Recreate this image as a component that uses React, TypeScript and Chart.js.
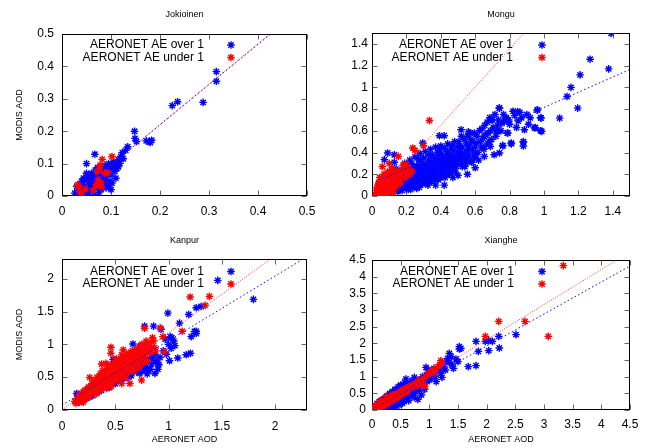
import { useEffect, useRef } from "react";
import { Chart, registerables } from "chart.js";

Chart.register(...registerables);

type P = [number, number];

// ---------- text ----------
const PANEL_TITLES = ["Jokioinen", "Mongu", "Kanpur", "Xianghe"];
const LEGEND_LABELS = ["AERONET AE over 1", "AERONET AE under 1"];
const X_AXIS_TITLE = "AERONET AOD";
const Y_AXIS_TITLE = "MODIS AOD";

// ---------- axes ----------
const AXIS_MAX = [0.5, 1.5, 2.3, 4.5];
const TICK_STEP = [0.1, 0.2, 0.5, 0.5];

// ---------- data: Jokioinen ----------
const jokioinenOver: P[] = [
  [0.315, 0.384], [0.315, 0.354], [0.225, 0.279], [0.236, 0.291], [0.288, 0.289],
  [0.148, 0.2], [0.149, 0.178], [0.152, 0.168], [0.172, 0.17], [0.178, 0.168],
  [0.183, 0.172], [0.18, 0.165], [0.134, 0.152], [0.13, 0.141], [0.123, 0.134],
  [0.12, 0.122], [0.067, 0.129], [0.05, 0.1], [0.115, 0.112], [0.11, 0.1],
  [0.108, 0.092], [0.1, 0.098], [0.095, 0.1], [0.088, 0.094], [0.08, 0.09],
  [0.073, 0.088], [0.068, 0.08], [0.075, 0.072], [0.085, 0.077], [0.092, 0.083],
  [0.104, 0.082], [0.108, 0.076], [0.115, 0.09], [0.1, 0.065], [0.094, 0.066],
  [0.098, 0.045], [0.102, 0.04], [0.09, 0.05], [0.085, 0.058], [0.08, 0.06],
  [0.072, 0.06], [0.065, 0.065], [0.06, 0.058], [0.055, 0.06], [0.05, 0.05],
  [0.045, 0.048], [0.04, 0.045], [0.058, 0.045], [0.065, 0.04], [0.07, 0.045],
  [0.078, 0.035], [0.085, 0.03], [0.09, 0.025], [0.06, 0.03], [0.052, 0.028],
  [0.045, 0.03], [0.04, 0.025], [0.035, 0.02], [0.03, 0.012], [0.026, 0.009],
  [0.034, 0.003], [0.05, 0.004], [0.055, 0.012], [0.062, 0.015], [0.068, 0.0],
  [0.075, 0.01], [0.08, 0.02], [0.095, 0.03], [0.088, 0.04], [0.048, 0.018],
  [0.042, 0.01], [0.03, 0.03], [0.038, 0.035], [0.044, 0.055], [0.05, 0.07],
  [0.056, 0.04], [0.06, 0.07], [0.064, 0.052], [0.07, 0.07], [0.076, 0.055],
  [0.082, 0.05], [0.088, 0.065], [0.092, 0.075], [0.097, 0.09], [0.105, 0.105],
  [0.11, 0.055], [0.112, 0.085], [0.118, 0.1], [0.125, 0.115], [0.058, 0.02],
  [0.072, 0.025], [0.1, 0.02],
];
const jokioinenUnder: P[] = [
  [0.102, 0.122], [0.082, 0.113], [0.093, 0.071], [0.087, 0.071], [0.074, 0.05],
  [0.07, 0.035], [0.079, 0.04], [0.076, 0.085], [0.078, 0.095], [0.034, 0.03],
  [0.036, 0.014], [0.064, 0.018], [0.047, 0.022], [0.032, 0.035], [0.08, 0.028],
  [0.072, 0.075], [0.04, 0.008],
];

// ---------- data: Mongu ----------
const monguOver: P[] = [
  [0.03, 0.02], [0.04, 0.05], [0.05, 0.03], [0.05, 0.08], [0.06, 0.1], [0.07, 0.05],
  [0.07, 0.13], [0.08, 0.08], [0.08, 0.16], [0.09, 0.04], [0.09, 0.11], [0.1, 0.07],
  [0.1, 0.14], [0.1, 0.2], [0.11, 0.1], [0.12, 0.05], [0.12, 0.16], [0.12, 0.22],
  [0.13, 0.12], [0.13, 0.08], [0.14, 0.18], [0.14, 0.25], [0.15, 0.1], [0.15, 0.14],
  [0.15, 0.04], [0.16, 0.2], [0.16, 0.06], [0.17, 0.12], [0.17, 0.17], [0.18, 0.24],
  [0.18, 0.08], [0.19, 0.15], [0.19, 0.2], [0.2, 0.1], [0.2, 0.27], [0.21, 0.06],
  [0.21, 0.18], [0.22, 0.13], [0.22, 0.22], [0.23, 0.3], [0.23, 0.09], [0.24, 0.17],
  [0.24, 0.25], [0.25, 0.12], [0.25, 0.2], [0.26, 0.28], [0.26, 0.07], [0.27, 0.15],
  [0.27, 0.23], [0.28, 0.32], [0.28, 0.1], [0.29, 0.19], [0.29, 0.26], [0.3, 0.14],
  [0.3, 0.22], [0.3, 0.35], [0.31, 0.3], [0.32, 0.12], [0.32, 0.18], [0.33, 0.25],
  [0.33, 0.33], [0.34, 0.2], [0.35, 0.15], [0.35, 0.29], [0.35, 0.38], [0.36, 0.24],
  [0.37, 0.18], [0.37, 0.33], [0.38, 0.27], [0.38, 0.4], [0.39, 0.22], [0.4, 0.17],
  [0.4, 0.31], [0.41, 0.36], [0.41, 0.26], [0.42, 0.2], [0.42, 0.44], [0.43, 0.3],
  [0.44, 0.24], [0.44, 0.38], [0.45, 0.34], [0.45, 0.2], [0.46, 0.28], [0.46, 0.43],
  [0.47, 0.24], [0.47, 0.37], [0.48, 0.31], [0.48, 0.5], [0.49, 0.27], [0.5, 0.4],
  [0.5, 0.34], [0.51, 0.45], [0.52, 0.3], [0.52, 0.55], [0.53, 0.38], [0.54, 0.27],
  [0.55, 0.48], [0.55, 0.34], [0.56, 0.42], [0.57, 0.58], [0.58, 0.31], [0.58, 0.5],
  [0.6, 0.38], [0.6, 0.45], [0.61, 0.55], [0.62, 0.33], [0.63, 0.5], [0.64, 0.62],
  [0.65, 0.43], [0.66, 0.56], [0.67, 0.68], [0.68, 0.5], [0.69, 0.6], [0.7, 0.7],
  [0.71, 0.38], [0.72, 0.55], [0.73, 0.65], [0.74, 0.81], [0.75, 0.6], [0.76, 0.46],
  [0.77, 0.69], [0.78, 0.72], [0.79, 0.58], [0.8, 0.66], [0.81, 0.48], [0.83, 0.74],
  [0.85, 0.69], [0.86, 0.77], [0.88, 0.5], [0.88, 0.46], [0.9, 0.75], [0.92, 0.72],
  [0.95, 0.63], [0.96, 0.79], [0.98, 0.72], [0.98, 0.6],
  [1.39, 1.497], [1.376, 1.17], [1.268, 1.259], [1.21, 1.115], [1.157, 1.0],
  [1.134, 0.916], [1.196, 0.809], [1.091, 0.717], [0.392, 0.555], [0.42, 0.555],
  [0.295, 0.488], [0.091, 0.396], [0.13, 0.38], [0.072, 0.335], [0.13, 0.31],
  [0.1, 0.01], [0.12, 0.0], [0.469, 0.243], [0.363, 0.213], [0.576, 0.319],
  [0.653, 0.365], [0.688, 0.457], [0.653, 0.549], [0.731, 0.594], [0.786, 0.58],
  [0.76, 0.466], [0.741, 0.396], [0.809, 0.488], [0.847, 0.778], [0.886, 0.61],
  [0.88, 0.497], [0.944, 0.626], [0.963, 0.793], [0.987, 0.595], [0.983, 0.717],
  [0.78, 0.717], [0.741, 0.809], [0.692, 0.7], [0.518, 0.61], [0.56, 0.59],
  [0.035, 0.06], [0.045, 0.1], [0.055, 0.04], [0.065, 0.07], [0.065, 0.15], [0.075, 0.1],
  [0.085, 0.13], [0.085, 0.05], [0.095, 0.17], [0.095, 0.08], [0.105, 0.11], [0.105, 0.03],
  [0.115, 0.14], [0.115, 0.19], [0.125, 0.09], [0.135, 0.15], [0.135, 0.21], [0.145, 0.06],
  [0.145, 0.12], [0.155, 0.17], [0.155, 0.22], [0.165, 0.09], [0.165, 0.14], [0.175, 0.2],
  [0.175, 0.05], [0.185, 0.11], [0.185, 0.17], [0.195, 0.23], [0.195, 0.08], [0.205, 0.14],
  [0.205, 0.19], [0.215, 0.25], [0.215, 0.1], [0.225, 0.16], [0.225, 0.06], [0.235, 0.2],
  [0.235, 0.13], [0.245, 0.27], [0.245, 0.09], [0.255, 0.16], [0.255, 0.23], [0.265, 0.12],
  [0.265, 0.19], [0.275, 0.26], [0.275, 0.08], [0.285, 0.15], [0.285, 0.22], [0.295, 0.29],
  [0.295, 0.11], [0.305, 0.18], [0.305, 0.25], [0.315, 0.14], [0.315, 0.21], [0.325, 0.28],
  [0.325, 0.1], [0.335, 0.17], [0.335, 0.23], [0.345, 0.31], [0.345, 0.13], [0.355, 0.2],
  [0.355, 0.26], [0.365, 0.16], [0.365, 0.34], [0.375, 0.22], [0.375, 0.29], [0.385, 0.15],
  [0.385, 0.36], [0.395, 0.25], [0.395, 0.32], [0.405, 0.2], [0.405, 0.39], [0.415, 0.29],
  [0.415, 0.23], [0.425, 0.34], [0.425, 0.17], [0.435, 0.27], [0.435, 0.41], [0.445, 0.31],
  [0.445, 0.21], [0.455, 0.37], [0.455, 0.25], [0.465, 0.32], [0.465, 0.47], [0.475, 0.28],
  [0.475, 0.42], [0.485, 0.35], [0.485, 0.22], [0.495, 0.45], [0.495, 0.3], [0.505, 0.37],
  [0.505, 0.5], [0.515, 0.33], [0.515, 0.41], [0.525, 0.45], [0.525, 0.27], [0.535, 0.52],
  [0.535, 0.35], [0.545, 0.41], [0.545, 0.3], [0.555, 0.55], [0.565, 0.37], [0.565, 0.46],
  [0.575, 0.52], [0.585, 0.42], [0.595, 0.35], [0.595, 0.58], [0.605, 0.49], [0.615, 0.4],
  [0.625, 0.6], [0.635, 0.45], [0.645, 0.53], [0.655, 0.65], [0.665, 0.47], [0.675, 0.58],
  [0.685, 0.72], [0.695, 0.52], [0.705, 0.63], [0.715, 0.75], [0.725, 0.6], [0.735, 0.7],
  [0.755, 0.67], [0.765, 0.75], [0.795, 0.7], [0.82, 0.78], [0.84, 0.63], [0.87, 0.72],
  [0.91, 0.66],
  [0.42, 0.1], [0.5, 0.19], [0.555, 0.2], [0.6, 0.26], [0.37, 0.1], [0.47, 0.17],
  [0.19, 0.3], [0.22, 0.33], [0.25, 0.36], [0.28, 0.39], [0.31, 0.41], [0.34, 0.43],
  [0.37, 0.45], [0.4, 0.46], [0.44, 0.48], [0.27, 0.34], [0.33, 0.38], [0.39, 0.42],
];
const monguUnder: P[] = [
  [0.02, 0.01], [0.03, 0.03], [0.03, 0.08], [0.04, 0.02], [0.04, 0.12], [0.05, 0.05],
  [0.05, 0.15], [0.06, 0.09], [0.06, 0.02], [0.07, 0.2], [0.07, 0.12], [0.08, 0.06],
  [0.08, 0.16], [0.09, 0.1], [0.09, 0.22], [0.1, 0.04], [0.1, 0.14], [0.11, 0.19],
  [0.11, 0.08], [0.12, 0.25], [0.12, 0.12], [0.13, 0.17], [0.14, 0.2], [0.14, 0.09],
  [0.15, 0.14], [0.16, 0.22], [0.17, 0.18], [0.18, 0.26], [0.19, 0.2], [0.2, 0.22],
  [0.21, 0.25], [0.22, 0.2], [0.12, 0.03], [0.08, 0.0], [0.181, 0.283], [0.153, 0.365],
  [0.237, 0.442], [0.25, 0.42], [0.3, 0.463], [0.334, 0.695], [0.06, 0.27], [0.1, 0.3],
  [0.113, 0.243], [0.161, 0.151], [0.19, 0.289],
  [0.025, 0.05], [0.035, 0.1], [0.045, 0.07], [0.055, 0.11], [0.055, 0.02], [0.065, 0.14],
  [0.065, 0.05], [0.075, 0.08], [0.075, 0.17], [0.085, 0.11], [0.085, 0.03], [0.095, 0.14],
  [0.095, 0.06], [0.105, 0.17], [0.105, 0.1], [0.115, 0.13], [0.125, 0.2], [0.125, 0.07],
  [0.135, 0.14], [0.145, 0.23], [0.155, 0.18], [0.165, 0.12], [0.175, 0.24], [0.185, 0.2],
  [0.195, 0.17], [0.205, 0.27], [0.215, 0.21], [0.23, 0.23], [0.045, 0.17], [0.09, 0.19],
];

// ---------- data: Kanpur ----------
const kanpurOver: P[] = [
  [0.138, 0.251], [0.15, 0.23], [0.18, 0.16], [0.2, 0.2], [0.22, 0.25], [0.25, 0.24],
  [0.27, 0.3], [0.3, 0.32], [0.32, 0.36], [0.35, 0.35], [0.38, 0.4], [0.4, 0.43],
  [0.42, 0.45], [0.447, 0.343], [0.46, 0.5], [0.48, 0.77], [0.5, 0.52], [0.52, 0.48],
  [0.55, 0.6], [0.58, 0.55], [0.6, 0.6], [0.62, 0.5], [0.64, 0.62], [0.666, 1.006],
  [0.68, 0.68], [0.7, 0.58], [0.72, 0.72], [0.731, 0.557], [0.75, 0.65], [0.76, 0.8],
  [0.778, 0.71], [0.78, 0.6], [0.8, 0.9], [0.81, 0.6], [0.82, 0.78], [0.84, 0.7],
  [0.86, 1.277], [0.775, 1.277], [0.872, 0.557], [0.872, 0.85], [0.897, 0.71],
  [0.909, 0.689], [0.93, 1.23], [0.95, 0.9], [0.994, 1.476], [1.009, 0.75],
  [1.016, 1.118], [1.025, 0.94], [1.05, 1.05], [1.087, 0.792], [1.103, 1.323],
  [1.166, 0.842], [1.19, 1.455], [1.206, 0.864], [1.213, 1.118], [1.26, 1.2],
  [1.26, 1.166], [1.244, 1.195], [1.26, 1.557], [1.306, 1.577], [1.462, 1.975],
  [1.797, 1.685],
  [0.16, 0.12], [0.19, 0.14], [0.23, 0.18], [0.26, 0.2], [0.29, 0.22], [0.33, 0.28],
  [0.37, 0.3], [0.5, 0.4], [0.55, 0.45], [0.58, 0.48], [0.62, 0.55], [0.65, 0.52],
  [0.67, 0.6], [0.69, 0.66], [0.71, 0.64], [0.74, 0.6], [0.76, 0.7], [0.79, 0.66],
  [0.8, 0.55], [0.83, 0.62], [0.85, 0.8], [0.88, 0.75], [0.9, 0.62], [0.92, 0.8],
  [0.98, 0.85], [1.0, 1.0], [1.03, 1.1], [1.06, 0.98], [0.97, 1.08], [0.7, 0.9],
  [0.74, 0.98], [0.63, 0.85],
];
const kanpurUnder: P[] = [
  [0.12, 0.13], [0.14, 0.17], [0.15, 0.12], [0.16, 0.2], [0.17, 0.15], [0.18, 0.24],
  [0.19, 0.18], [0.2, 0.12], [0.2, 0.28], [0.21, 0.22], [0.22, 0.17], [0.23, 0.3],
  [0.24, 0.25], [0.25, 0.2], [0.25, 0.35], [0.26, 0.496], [0.27, 0.29], [0.28, 0.24],
  [0.28, 0.4], [0.29, 0.33], [0.3, 0.27], [0.3, 0.45], [0.31, 0.38], [0.32, 0.3],
  [0.33, 0.42], [0.33, 0.5], [0.34, 0.35], [0.35, 0.28], [0.35, 0.46], [0.36, 0.55],
  [0.37, 0.4], [0.38, 0.33], [0.38, 0.6], [0.39, 0.48], [0.4, 0.38], [0.4, 0.55],
  [0.41, 0.44], [0.42, 0.62], [0.42, 0.33], [0.43, 0.5], [0.44, 0.68], [0.45, 0.42],
  [0.45, 0.58], [0.459, 0.955], [0.459, 0.864], [0.46, 0.36], [0.47, 0.64], [0.48, 0.5],
  [0.49, 0.72], [0.5, 0.44], [0.5, 0.6], [0.51, 0.78], [0.52, 0.55], [0.53, 0.68],
  [0.54, 0.48], [0.55, 0.75], [0.55, 0.62], [0.56, 0.404], [0.56, 0.84], [0.57, 0.56],
  [0.575, 0.914], [0.58, 0.7], [0.59, 0.78], [0.6, 0.5], [0.6, 0.64], [0.61, 0.85],
  [0.62, 0.72], [0.63, 0.58], [0.637, 0.404], [0.64, 0.8], [0.65, 0.66], [0.652, 0.812],
  [0.66, 0.9], [0.67, 0.74], [0.68, 0.6], [0.69, 0.82], [0.7, 0.7], [0.71, 0.95],
  [0.72, 0.78], [0.73, 0.65], [0.74, 0.88], [0.747, 0.455], [0.75, 1.0], [0.76, 0.82],
  [0.775, 1.246], [0.78, 0.92], [0.79, 1.05], [0.8, 0.75], [0.81, 0.98], [0.83, 0.88],
  [0.85, 1.1], [0.87, 0.95], [0.922, 1.251], [0.947, 1.118], [0.962, 0.888],
  [1.128, 1.2], [1.203, 1.721], [1.384, 1.73], [1.344, 1.593], [0.372, 0.7], [0.413, 0.71],
  [0.13, 0.1], [0.155, 0.16], [0.165, 0.24], [0.175, 0.19], [0.185, 0.13], [0.195, 0.22],
  [0.215, 0.3], [0.225, 0.2], [0.235, 0.26], [0.245, 0.33], [0.255, 0.22], [0.265, 0.3],
  [0.275, 0.37], [0.285, 0.27], [0.295, 0.36], [0.305, 0.42], [0.315, 0.33], [0.325, 0.25],
  [0.335, 0.46], [0.345, 0.39], [0.355, 0.52], [0.365, 0.43], [0.375, 0.36], [0.385, 0.55],
  [0.395, 0.42], [0.405, 0.5], [0.415, 0.58], [0.425, 0.45], [0.435, 0.55], [0.445, 0.63],
  [0.455, 0.48], [0.465, 0.57], [0.475, 0.68], [0.485, 0.55], [0.495, 0.66], [0.505, 0.72],
  [0.515, 0.62], [0.525, 0.5], [0.535, 0.75], [0.545, 0.66], [0.555, 0.55], [0.565, 0.7],
  [0.575, 0.8], [0.585, 0.6], [0.595, 0.72], [0.605, 0.78], [0.615, 0.65], [0.625, 0.82],
  [0.635, 0.7], [0.645, 0.88], [0.655, 0.75], [0.665, 0.62], [0.675, 0.8], [0.685, 0.9],
  [0.695, 0.76], [0.705, 0.85], [0.715, 0.68], [0.725, 0.88], [0.735, 0.95], [0.745, 0.8],
  [0.755, 0.9], [0.765, 0.72], [0.785, 0.85], [0.795, 0.98], [0.815, 0.9], [0.825, 1.02],
  [0.84, 0.95], [0.86, 1.05], [0.88, 0.9],
];

// ---------- data: Xianghe ----------
const xiangheOver: P[] = [
  [0.05, 0.02], [0.08, 0.05], [0.1, 0.03], [0.12, 0.15], [0.15, 0.08], [0.18, 0.3],
  [0.2, 0.1], [0.22, 0.35], [0.25, 0.15], [0.28, 0.4], [0.3, 0.2], [0.32, 0.45],
  [0.35, 0.25], [0.38, 0.5], [0.4, 0.3], [0.42, 0.55], [0.45, 0.35], [0.48, 0.6],
  [0.5, 0.4], [0.55, 0.45], [0.55, 0.7], [0.593, 0.93], [0.6, 0.5], [0.62, 0.75],
  [0.65, 0.55], [0.7, 0.5], [0.715, 0.5], [0.738, 0.38], [0.738, 0.98], [0.75, 0.65],
  [0.8, 0.32], [0.8, 0.7], [0.85, 0.9], [0.88, 1.0], [0.9, 0.8], [0.942, 1.28],
  [0.95, 1.05], [1.0, 0.9], [1.05, 1.15], [1.1, 1.0], [1.145, 1.18], [1.2, 1.1],
  [1.25, 1.3], [1.3, 1.45], [1.349, 1.7], [1.349, 1.43], [1.4, 1.35], [1.465, 1.53],
  [1.523, 1.9], [1.523, 1.83], [1.68, 1.3], [1.814, 1.33], [1.814, 2.06], [1.855, 1.76],
  [1.977, 2.06], [2.035, 2.08], [2.035, 1.78], [2.1, 2.06], [2.21, 2.21], [2.221, 1.86],
  [2.512, 2.26],
  [0.06, 0.1], [0.09, 0.2], [0.11, 0.08], [0.13, 0.25], [0.14, 0.02], [0.16, 0.15],
  [0.17, 0.22], [0.19, 0.05], [0.21, 0.25], [0.23, 0.12], [0.24, 0.3], [0.26, 0.08],
  [0.27, 0.22], [0.29, 0.35], [0.31, 0.13], [0.33, 0.3], [0.34, 0.42], [0.36, 0.18],
  [0.37, 0.35], [0.39, 0.1], [0.41, 0.22], [0.43, 0.45], [0.44, 0.6], [0.46, 0.28],
  [0.47, 0.15], [0.49, 0.5], [0.51, 0.65], [0.52, 0.32], [0.54, 0.58], [0.56, 0.25],
  [0.58, 0.42], [0.6, 0.72], [0.62, 0.35], [0.64, 0.62], [0.66, 0.8], [0.68, 0.45],
  [0.7, 0.88], [0.72, 0.62], [0.76, 0.55], [0.78, 0.9], [0.82, 0.6], [0.84, 0.78],
  [0.86, 0.45], [0.92, 0.62], [0.96, 0.85], [0.98, 1.2], [1.02, 0.95], [1.08, 1.25],
  [1.12, 0.85], [1.18, 1.25], [1.22, 0.98], [1.28, 1.2], [1.32, 1.55], [1.38, 1.6],
  [1.42, 1.25], [1.5, 1.45], [1.55, 1.85],
  [0.2, 0.32], [0.26, 0.42], [0.31, 0.5], [0.36, 0.55], [0.4, 0.62], [0.46, 0.7],
  [0.5, 0.75], [0.57, 0.82], [0.3, 0.06], [0.42, 0.12], [0.53, 0.2], [0.64, 0.28],
];
const xiangheUnder: P[] = [
  [0.05, 0.08], [0.07, 0.05], [0.08, 0.12], [0.1, 0.1], [0.1, 0.16], [0.12, 0.08],
  [0.13, 0.14], [0.14, 0.2], [0.15, 0.12], [0.16, 0.18], [0.18, 0.24], [0.19, 0.15],
  [0.2, 0.2], [0.22, 0.28], [0.23, 0.2], [0.25, 0.25], [0.27, 0.33], [0.28, 0.22],
  [0.3, 0.3], [0.32, 0.38], [0.33, 0.28], [0.35, 0.35], [0.37, 0.42], [0.38, 0.32],
  [0.4, 0.4], [0.42, 0.46], [0.44, 0.38], [0.46, 0.5], [0.48, 0.44], [0.5, 0.52],
  [0.52, 0.56], [0.55, 0.5], [0.58, 0.62], [0.6, 0.58], [0.65, 0.7], [0.7, 0.68],
  [0.75, 0.78], [0.78, 0.72], [0.8, 0.85], [0.85, 0.8], [0.9, 0.95], [0.92, 0.72],
  [0.95, 1.0], [1.0, 1.12], [1.05, 1.2], [1.1, 1.1], [1.15, 1.3], [1.2, 1.48],
  [1.22, 1.4], [0.35, 0.45], [0.25, 0.4], [0.15, 0.28], [1.977, 2.21], [2.21, 2.66],
  [2.669, 2.66], [3.075, 2.21], [3.337, 4.33],
  [0.04, 0.04], [0.06, 0.12], [0.09, 0.08], [0.11, 0.14], [0.11, 0.05], [0.13, 0.1],
  [0.14, 0.16], [0.16, 0.13], [0.17, 0.2], [0.18, 0.1], [0.2, 0.16], [0.21, 0.24],
  [0.22, 0.14], [0.24, 0.22], [0.26, 0.3], [0.26, 0.18], [0.28, 0.26], [0.29, 0.35],
  [0.31, 0.25], [0.32, 0.32], [0.34, 0.4], [0.36, 0.3], [0.38, 0.38], [0.39, 0.46],
  [0.41, 0.35], [0.43, 0.42], [0.45, 0.48], [0.47, 0.4], [0.49, 0.55], [0.51, 0.46],
  [0.53, 0.6], [0.56, 0.55], [0.6, 0.66], [0.62, 0.56], [0.68, 0.72], [0.72, 0.75],
  [0.82, 0.9], [0.88, 0.85], [0.98, 1.05], [1.08, 1.2], [1.18, 1.35],
];

// ---------- fit lines (end points) ----------
const FIT_OVER: P[][] = [
  [[0, -0.028], [0.5, 0.592]],
  [[0, 0.115], [1.5, 1.165]],
  [[0, 0.073], [2.3, 2.334]],
  [[0, 0.0], [4.5, 4.32]],
];
const FIT_UNDER: P[][] = [
  [[0, -0.03], [0.5, 0.595]],
  [[0, -0.052], [1.5, 2.582]],
  [[0, 0.0], [2.3, 2.703]],
  [[0, 0.0], [4.5, 4.743]],
];

const OVER_SERIES = [jokioinenOver, monguOver, kanpurOver, xiangheOver];
const UNDER_SERIES = [jokioinenUnder, monguUnder, kanpurUnder, xiangheUnder];

// ---------- layout (page pixels) ----------
const W = 651;
const H = 448;
const YW = 50;
const XH = 30;
const FONT = '"Liberation Sans", Arial, Helvetica, sans-serif';
const BLUE = "#0000ff";
const RED = "#ff0000";

const GEOM = [
  { l: 62, r: 307, t: 34, b: 196, yPad: 8, xPad: 8, legText: 204, legSym: 231, legY: [45, 57.5], titleY: 15, yTitle: true, xTitle: false },
  { l: 372, r: 630, t: 33, b: 196, yPad: 4, xPad: 8, legText: 513, legSym: 542, legY: [45, 57.5], titleY: 15, yTitle: false, xTitle: false },
  { l: 62, r: 307, t: 259, b: 410, yPad: 8, xPad: 9, legText: 204, legSym: 231, legY: [271.5, 284], titleY: 240.5, yTitle: true, xTitle: true },
  { l: 372, r: 630, t: 260, b: 410, yPad: 6, xPad: 7, legText: 514, legSym: 542, legY: [271.5, 284], titleY: 240.5, yTitle: false, xTitle: true },
];

const fmt = (v: number) => String(Math.round(v * 1000) / 1000);

function drawStar(ctx: CanvasRenderingContext2D, x: number, y: number, r: number) {
  const d = r * Math.SQRT1_2;
  ctx.beginPath();
  ctx.moveTo(x - r, y);
  ctx.lineTo(x + r, y);
  ctx.moveTo(x, y - r);
  ctx.lineTo(x, y + r);
  ctx.moveTo(x - d, y - d);
  ctx.lineTo(x + d, y + d);
  ctx.moveTo(x - d, y + d);
  ctx.lineTo(x + d, y - d);
  ctx.stroke();
}

function makeChart(canvas: HTMLCanvasElement, i: number) {
  const g = GEOM[i];
  const toXY = (arr: P[]) => arr.map(([x, y]) => ({ x, y }));

  const framePlugin = {
    id: "frame" + i,
    beforeDatasetsDraw(chart: any) {
      const { ctx, chartArea } = chart;
      const xs = chart.scales.x;
      const ys = chart.scales.y;
      const L = Math.round(chartArea.left) + 0.5;
      const R = Math.round(chartArea.right) - 0.5;
      const T = Math.round(chartArea.top) + 0.5;
      const B = Math.round(chartArea.bottom) - 0.5;
      ctx.save();
      ctx.lineWidth = 1;
      ctx.strokeStyle = "#666";
      ctx.beginPath();
      xs.ticks.forEach((t: any) => {
        const px = Math.round(xs.getPixelForValue(t.value)) + 0.5;
        ctx.moveTo(px, B);
        ctx.lineTo(px, B - 5);
        ctx.moveTo(px, T);
        ctx.lineTo(px, T + 5);
      });
      ys.ticks.forEach((t: any) => {
        const py = Math.round(ys.getPixelForValue(t.value)) + 0.5;
        ctx.moveTo(L, py);
        ctx.lineTo(L + 5, py);
        ctx.moveTo(R, py);
        ctx.lineTo(R - 5, py);
      });
      ctx.stroke();
      ctx.strokeStyle = "#000";
      ctx.strokeRect(L, T, R - L, B - T);
      ctx.restore();
    },
    afterDraw(chart: any) {
      const { ctx, chartArea } = chart;
      const cx = (chartArea.left + chartArea.right) / 2;
      const cy = (chartArea.top + chartArea.bottom) / 2;
      ctx.save();
      ctx.fillStyle = "#000";
      ctx.textBaseline = "middle";
      ctx.textAlign = "center";
      ctx.font = `9px ${FONT}`;
      ctx.fillText(PANEL_TITLES[i], cx, g.titleY);
      if (g.xTitle) ctx.fillText(X_AXIS_TITLE, cx, 439.5);
      if (g.yTitle) {
        ctx.save();
        ctx.translate(20, cy);
        ctx.rotate(-Math.PI / 2);
        ctx.fillText(Y_AXIS_TITLE, 0, 0);
        ctx.restore();
      }
      ctx.font = `12px ${FONT}`;
      ctx.textAlign = "right";
      LEGEND_LABELS.forEach((lab, k) => {
        ctx.fillStyle = "#000";
        ctx.fillText(lab, g.legText, g.legY[k]);
        ctx.strokeStyle = k === 0 ? BLUE : RED;
        ctx.lineWidth = 1.4;
        drawStar(ctx, g.legSym, g.legY[k], 3.8);
      });
      ctx.restore();
    },
  };

  const tickFont = { family: FONT, size: 12 };

  return new Chart(canvas, {
    type: "scatter",
    data: {
      datasets: [
        {
          label: "fit under",
          data: toXY(FIT_UNDER[i]),
          showLine: true,
          borderColor: "rgba(255,0,0,0.8)",
          borderWidth: 1,
          borderDash: [1, 1.5],
          pointRadius: 0,
          order: 0,
        },
        {
          label: "fit over",
          data: toXY(FIT_OVER[i]),
          showLine: true,
          borderColor: BLUE,
          borderWidth: 1,
          borderDash: [1.5, 2.5],
          pointRadius: 0,
          order: 1,
        },
        {
          label: LEGEND_LABELS[1],
          data: toXY(UNDER_SERIES[i]),
          pointStyle: "star",
          pointRadius: 3.8,
          borderWidth: 1.4,
          borderColor: RED,
          backgroundColor: RED,
          order: 2,
        },
        {
          label: LEGEND_LABELS[0],
          data: toXY(OVER_SERIES[i]),
          pointStyle: "star",
          pointRadius: 3.8,
          borderWidth: 1.4,
          borderColor: BLUE,
          backgroundColor: BLUE,
          order: 3,
        },
      ],
    } as any,
    options: {
      responsive: false,
      animation: false,
      events: [],
      layout: {
        padding: { left: g.l - YW, top: g.t, right: W - g.r, bottom: H - g.b - XH },
      },
      plugins: {
        legend: { display: false },
        title: { display: false },
        tooltip: { enabled: false },
      },
      scales: {
        x: {
          type: "linear",
          min: 0,
          max: AXIS_MAX[i],
          grid: { display: false, drawTicks: false },
          border: { display: false },
          ticks: {
            stepSize: TICK_STEP[i],
            includeBounds: false,
            autoSkip: false,
            maxRotation: 0,
            padding: g.xPad,
            color: "#000",
            font: tickFont,
            callback: (v: any) => fmt(Number(v)),
          },
          afterFit: (s: any) => {
            s.height = XH;
          },
        },
        y: {
          type: "linear",
          min: 0,
          max: AXIS_MAX[i],
          grid: { display: false, drawTicks: false },
          border: { display: false },
          ticks: {
            stepSize: TICK_STEP[i],
            includeBounds: false,
            autoSkip: false,
            padding: g.yPad,
            color: "#000",
            font: tickFont,
            callback: (v: any) => fmt(Number(v)),
          },
          afterFit: (s: any) => {
            s.width = YW;
          },
        },
      },
    } as any,
    plugins: [framePlugin],
  });
}

export default function App() {
  const r0 = useRef<HTMLCanvasElement>(null);
  const r1 = useRef<HTMLCanvasElement>(null);
  const r2 = useRef<HTMLCanvasElement>(null);
  const r3 = useRef<HTMLCanvasElement>(null);

  useEffect(() => {
    const refs = [r0, r1, r2, r3];
    const charts = refs.map((r, i) => makeChart(r.current as HTMLCanvasElement, i));
    return () => charts.forEach((c) => c.destroy());
  }, []);

  const cs: any = { position: "absolute", left: 0, top: 0, width: W, height: H };
  return (
    <div style={{ position: "absolute", left: 0, top: 0, width: W, height: H, background: "#fff" }}>
      <canvas ref={r0} width={W} height={H} style={cs} />
      <canvas ref={r1} width={W} height={H} style={cs} />
      <canvas ref={r2} width={W} height={H} style={cs} />
      <canvas ref={r3} width={W} height={H} style={cs} />
    </div>
  );
}
